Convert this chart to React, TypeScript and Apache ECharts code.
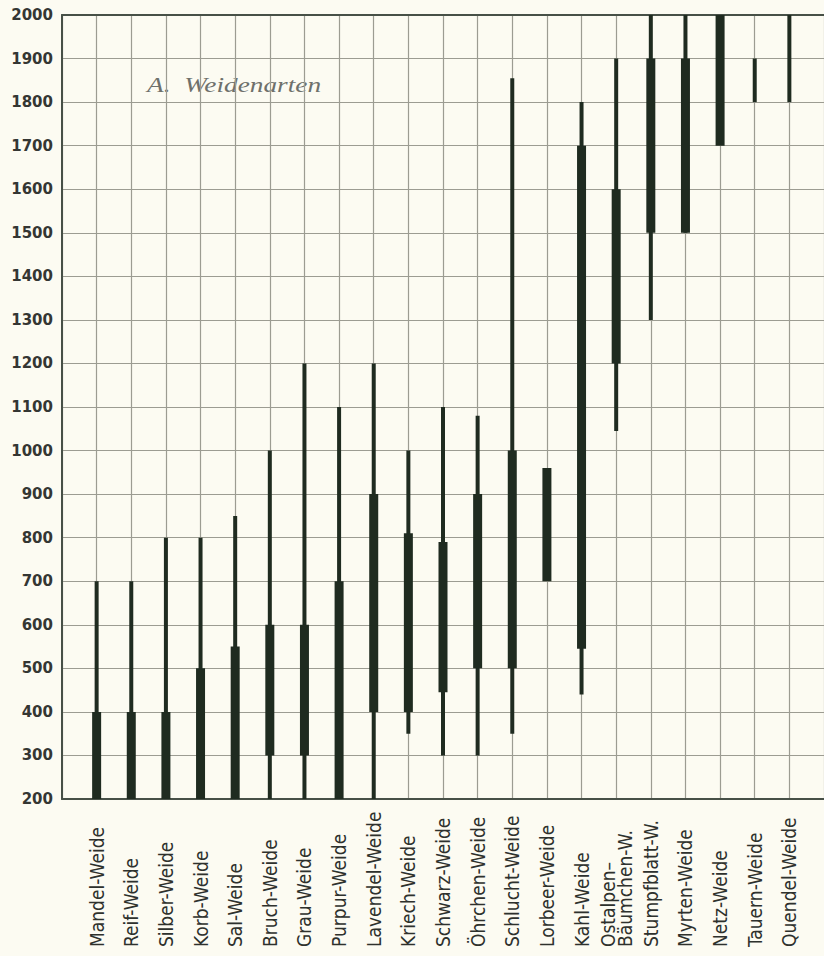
import React, { useEffect, useRef } from "react";
import * as echarts from "echarts";

const categories = [
  "Mandel-Weide", "Reif-Weide", "Silber-Weide", "Korb-Weide", "Sal-Weide",
  "Bruch-Weide", "Grau-Weide", "Purpur-Weide", "Lavendel-Weide", "Kriech-Weide",
  "Schwarz-Weide", "Öhrchen-Weide", "Schlucht-Weide", "Lorbeer-Weide", "Kahl-Weide",
  "Ostalpen–\nBäumchen-W.", "Stumpfblatt-W.", "Myrten-Weide", "Netz-Weide",
  "Tauern-Weide", "Quendel-Weide",
];

// total altitude range (thin line)
const thinLow = [200, 200, 200, 200, 200, 200, 200, 200, 200, 350, 300, 300, 350, null, 440, 1045, 1300, 1500, null, 1800, 1800];
const thinHigh = [700, 700, 800, 800, 850, 1000, 1200, 1100, 1200, 1000, 1100, 1080, 1855, null, 1800, 1900, 2000, 2000, null, 1900, 2000];
// main altitude range (thick bar)
const thickLow = [200, 200, 200, 200, 200, 300, 300, 200, 400, 400, 445, 500, 500, 700, 545, 1200, 1500, 1500, 1700, null, null];
const thickHigh = [400, 400, 400, 500, 550, 600, 600, 700, 900, 810, 790, 900, 1000, 960, 1700, 1600, 1900, 1900, 2000, null, null];

const yTicks = { min: 200, max: 2000, interval: 100 };
const title = "A.  Weidenarten";

const axisCats = ["", ...categories, ""];

function rangeData(lo: (number | null)[], hi: (number | null)[]) {
  const out: number[][] = [];
  lo.forEach((l, i) => {
    const h = hi[i];
    if (l != null && h != null) out.push([i + 1, l, h]);
  });
  return out;
}

function makeRender(width: number, color: string) {
  return (params: any, api: any) => {
    const x = api.value(0);
    const lo = api.value(1);
    const hi = api.value(2);
    const p1 = api.coord([x, hi]);
    const p2 = api.coord([x, lo]);
    return {
      type: "rect",
      shape: { x: p1[0] - width / 2, y: p1[1], width, height: p2[1] - p1[1] },
      style: { fill: color },
    };
  };
}

export default function App() {
  const ref = useRef<HTMLDivElement>(null);
  useEffect(() => {
    if (!ref.current) return;
    const chart = echarts.init(ref.current, null, { renderer: "svg" });
    const barColor = "#1f2b20";
    const axisColor = "#475047";
    chart.setOption({
      animation: false,
      backgroundColor: "#fcfbf2",
      grid: { left: 62, right: 0, top: 15, bottom: 157, containLabel: false },
      xAxis: [
        {
          type: "category",
          data: axisCats,
          boundaryGap: false,
          position: "bottom",
          axisLine: { show: true, lineStyle: { color: axisColor, width: 2 } },
          axisTick: { show: false },
          splitLine: { show: true, interval: 0, lineStyle: { color: "#9c9c92", width: 1.2 } },
          axisLabel: {
            interval: 0,
            rotate: 90,
            align: "left",
            margin: 148,
            fontFamily: "'DejaVu Sans Condensed', 'DejaVu Sans', sans-serif",
            fontSize: 19,
            lineHeight: 17,
            color: "#2e312d",
          },
        },
        {
          type: "category",
          data: axisCats,
          boundaryGap: false,
          position: "top",
          axisLine: { show: true, lineStyle: { color: axisColor, width: 2 } },
          axisTick: { show: false },
          axisLabel: { show: false },
          splitLine: { show: false },
        },
      ],
      yAxis: {
        type: "value",
        min: yTicks.min,
        max: yTicks.max,
        interval: yTicks.interval,
        axisLine: { show: true, lineStyle: { color: axisColor, width: 2 } },
        axisTick: { show: false },
        splitLine: { show: true, lineStyle: { color: "#9c9c92", width: 1.2 } },
        axisLabel: {
          margin: 9,
          formatter: (v: number) => String(v),
          fontFamily: "'DejaVu Sans', sans-serif",
          fontWeight: "bold",
          fontSize: 15,
          color: "#343633",
        },
      },
      graphic: [
        {
          type: "text",
          x: 147,
          y: 74,
          scaleX: 1.3,
          style: {
            text: title,
            fontFamily: "'Liberation Serif', serif",
            fontStyle: "italic",
            fontSize: 21,
            fill: "#6e706b",
            verticalAlign: "top",
          },
        },
      ],
      series: [
        {
          type: "custom",
          name: "Gesamtverbreitung",
          xAxisIndex: 0,
          renderItem: makeRender(4, barColor),
          encode: { x: 0, y: [1, 2] },
          data: rangeData(thinLow, thinHigh),
          z: 3,
        },
        {
          type: "custom",
          name: "Hauptverbreitung",
          xAxisIndex: 0,
          renderItem: makeRender(9, barColor),
          encode: { x: 0, y: [1, 2] },
          data: rangeData(thickLow, thickHigh),
          z: 4,
        },
      ],
    });
    return () => chart.dispose();
  }, []);
  return (
    <div
      ref={ref}
      style={{ position: "absolute", left: 0, top: 0, width: 824, height: 956 }}
    />
  );
}
